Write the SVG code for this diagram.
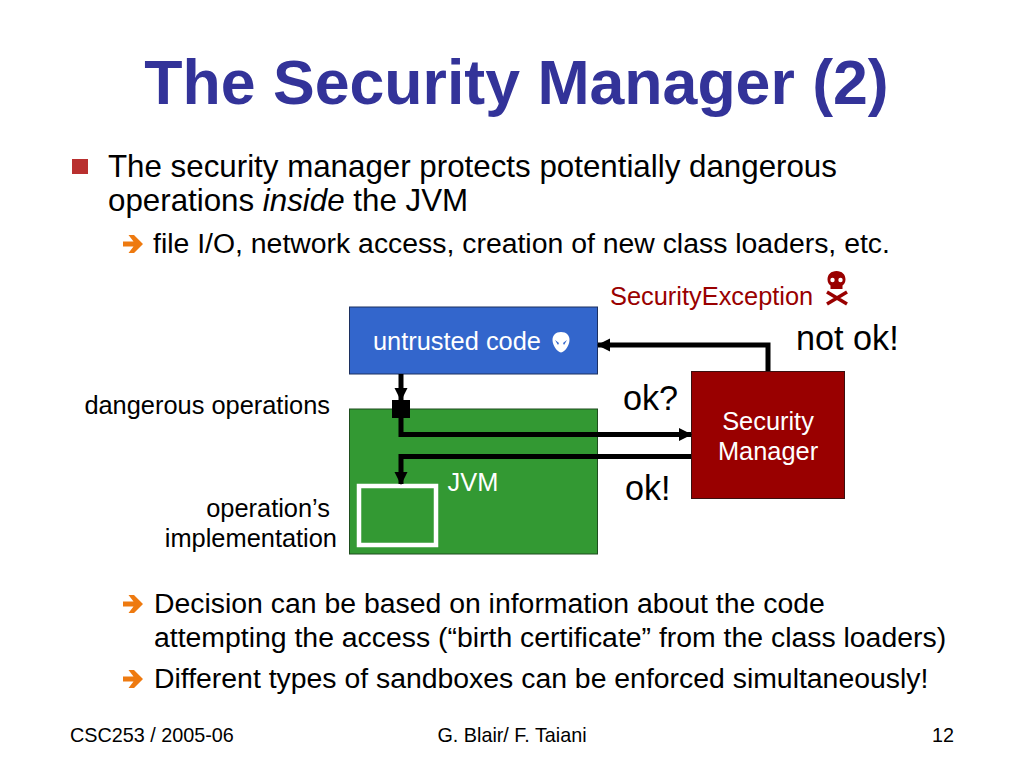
<svg xmlns="http://www.w3.org/2000/svg" width="1024" height="768" viewBox="0 0 1024 768">
<style>
text{font-family:"Liberation Sans",Arial,sans-serif;fill:#000}
.b1{font-size:31.300px}.b2{font-size:28.400px}.lab{font-size:25.400px}.big{font-size:34.200px}.foot{font-size:19.800px}
.w{fill:#fff}.m{text-anchor:middle}.e{text-anchor:end}
.c{fill:none;stroke:#000;stroke-width:5}
</style>
<defs>
<marker id="ah" markerUnits="userSpaceOnUse" markerWidth="14" markerHeight="14" refX="12" refY="6.500" orient="auto"><path d="M0 0L13 6.500L0 13z" fill="#000"/></marker>
<path id="ar" fill="#ee7a10" d="M0 -2.500h10.500l-5-6.500h5.500l9 9l-9 9h-5.500l5-6.500h-10.500z"/>
</defs>
<rect width="1024" height="768" fill="#fff"/>
<text x="516.500" y="104" class="m" font-size="62.600" font-weight="bold" style="fill:#333399">The Security Manager (2)</text>
<rect x="72" y="159" width="16" height="15" fill="#b9302f"/>
<text x="108" y="177" class="b1">The security manager protects potentially dangerous</text>
<text x="108" y="211" class="b1">operations <tspan font-style="italic">inside</tspan> the JVM</text>
<use href="#ar" x="123" y="244"/>
<text x="153" y="253" class="b2">file I/O, network access, creation of new class loaders, etc.</text>
<g id="jvm"><rect x="349.500" y="409" width="248" height="145" fill="#339933" stroke="#1e4d1e"/><text x="473" y="491" class="lab m w">JVM</text></g>
<g id="impl"><rect x="359" y="486" width="77" height="59" fill="none" stroke="#fff" stroke-width="4.500"/></g>
<g id="untrusted"><rect x="349.500" y="307" width="248" height="67" fill="#3366cc" stroke="#1c3060"/><text x="373" y="350" class="lab w">untrusted code</text>
<path d="M561 332c5.500 0 8.500 3.500 8.500 8c0 5-4.500 12-8.500 12.500c-4-.5-8.500-7.500-8.500-12.500c0-4.500 3-8 8.500-8z" fill="#fff"/><path d="M555 340l4 3l-1 2zM567 340l-4 3l1 2z" fill="#3366cc"/></g>
<g id="manager"><rect x="691.500" y="371.500" width="153" height="127" fill="#990000" stroke="#3a1010"/><text x="768" y="430" class="lab m w">Security</text><text x="768" y="460" class="lab m w">Manager</text></g>
<g id="connectors">
<path class="c" d="M401 374V400" marker-end="url(#ah)"/>
<path class="c" d="M401 409V434.500H691" marker-end="url(#ah)"/>
<path class="c" d="M691 456.500H401V484" marker-end="url(#ah)"/>
<path class="c" d="M768 371V345H598" marker-end="url(#ah)"/>
</g>
<g id="dangerous"><rect x="392" y="400" width="18" height="18" fill="#000"/><text x="330" y="414" class="lab e">dangerous operations</text></g>
<text x="330" y="517" class="lab e">operation’s</text>
<text x="337" y="547" class="lab e">implementation</text>
<text x="623" y="410" class="big">ok?</text>
<text x="625" y="500" class="big">ok!</text>
<text x="796" y="350" class="big">not ok!</text>
<g id="exception"><text x="610" y="305" class="lab" style="fill:#990000">SecurityException</text>
<path d="M836.500 271c5.500 0 9 3.500 9 8.500c0 3-1.500 5-3 6v3.500h-12v-3.500c-1.500-1-3-3-3-6c0-5 3.500-8.500 9-8.500z" fill="#990000"/><circle cx="832.500" cy="280" r="2.200" fill="#fff"/><circle cx="840.500" cy="280" r="2.200" fill="#fff"/>
<path d="M827 292L847 304M847 292L827 304" stroke="#990000" stroke-width="3.500" fill="none"/></g>
<use href="#ar" x="123" y="604"/>
<text x="154" y="613" class="b2">Decision can be based on information about the code</text>
<text x="154" y="647" class="b2">attempting the access (“birth certificate” from the class loaders)</text>
<use href="#ar" x="123" y="679"/>
<text x="154" y="688" class="b2">Different types of sandboxes can be enforced simultaneously!</text>
<text x="70" y="742" class="foot">CSC253 / 2005-06</text>
<text x="512" y="742" class="foot m">G. Blair/ F. Taiani</text>
<text x="954" y="742" class="foot e">12</text>
</svg>
